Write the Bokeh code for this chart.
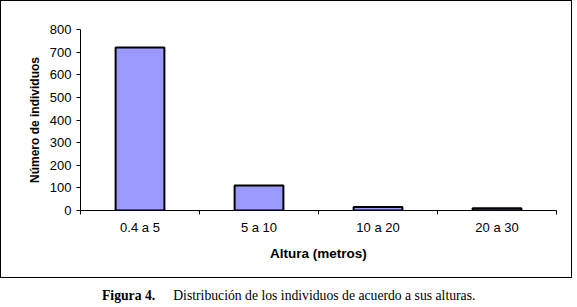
from bokeh.plotting import figure
from bokeh.models import ColumnDataSource, FixedTicker, Range1d, Div
from bokeh.layouts import column
from bokeh.embed import file_html
from bokeh.resources import INLINE

categories = ["0.4 a 5", "5 a 10", "10 a 20", "20 a 30"]
counts = [720, 110, 15, 10]
y_ticks = [0, 100, 200, 300, 400, 500, 600, 700, 800]
caption_label = "Figura 4."
caption_text = "Distribución de los individuos de acuerdo a sus alturas."

centers = [i + 0.5 for i in range(len(categories))]
src = ColumnDataSource(dict(x=centers, top=counts, cat=categories))

p = figure(width=572, height=278, output_backend="svg", toolbar_location=None,
           x_range=Range1d(0, len(categories)), y_range=Range1d(0, 800),
           min_border_left=79, min_border_right=17, min_border_top=28, min_border_bottom=69)
p.outline_line_color = None
p.grid.visible = False
p.styles = {"border": "1.5px solid black"}

p.vbar(x="x", top="top", width=0.41, source=src, fill_color="#9999FF",
       line_color="black", line_width=2)

font = "Liberation Sans"
xa = p.xaxis[0]
xa.ticker = FixedTicker(ticks=centers, minor_ticks=list(range(len(categories) + 1)))
xa.major_label_overrides = {c: lab for c, lab in zip(centers, categories)}
xa.major_tick_out = 0
xa.major_tick_in = 0
xa.minor_tick_out = 4
xa.minor_tick_in = 0
xa.major_label_standoff = 5
xa.axis_label = "Altura (metros)"
xa.axis_label_standoff = 8
xa.axis_label_text_font_size = "13.5px"

ya = p.yaxis[0]
ya.ticker = FixedTicker(ticks=y_ticks)
ya.major_tick_out = 4
ya.major_tick_in = 0
ya.minor_tick_out = 0
ya.minor_tick_in = 0
ya.major_label_standoff = 5
ya.axis_label = "Número de individuos"
ya.axis_label_standoff = 5
ya.axis_label_text_font_size = "12px"

for ax in (xa, ya):
    ax.axis_line_color = "black"
    ax.axis_line_width = 1
    ax.major_tick_line_color = "black"
    ax.minor_tick_line_color = "black"
    ax.major_label_text_font = font
    ax.major_label_text_font_size = "13px"
    ax.major_label_text_color = "black"
    ax.axis_label_text_font = font
    ax.axis_label_text_font_style = "bold"
    ax.axis_label_text_color = "black"

cap = Div(text=f"<b>{caption_label}</b><span style='margin-left:18px'>{caption_text}</span>",
          width=577, height=26,
          styles={"font-family": "Liberation Serif", "font-size": "13.7px", "color": "black",
                  "padding-left": "97px", "padding-top": "3px", "white-space": "nowrap"})

layout = column(p, cap, spacing=0)
open("out.html", "w").write(file_html(layout, INLINE))
